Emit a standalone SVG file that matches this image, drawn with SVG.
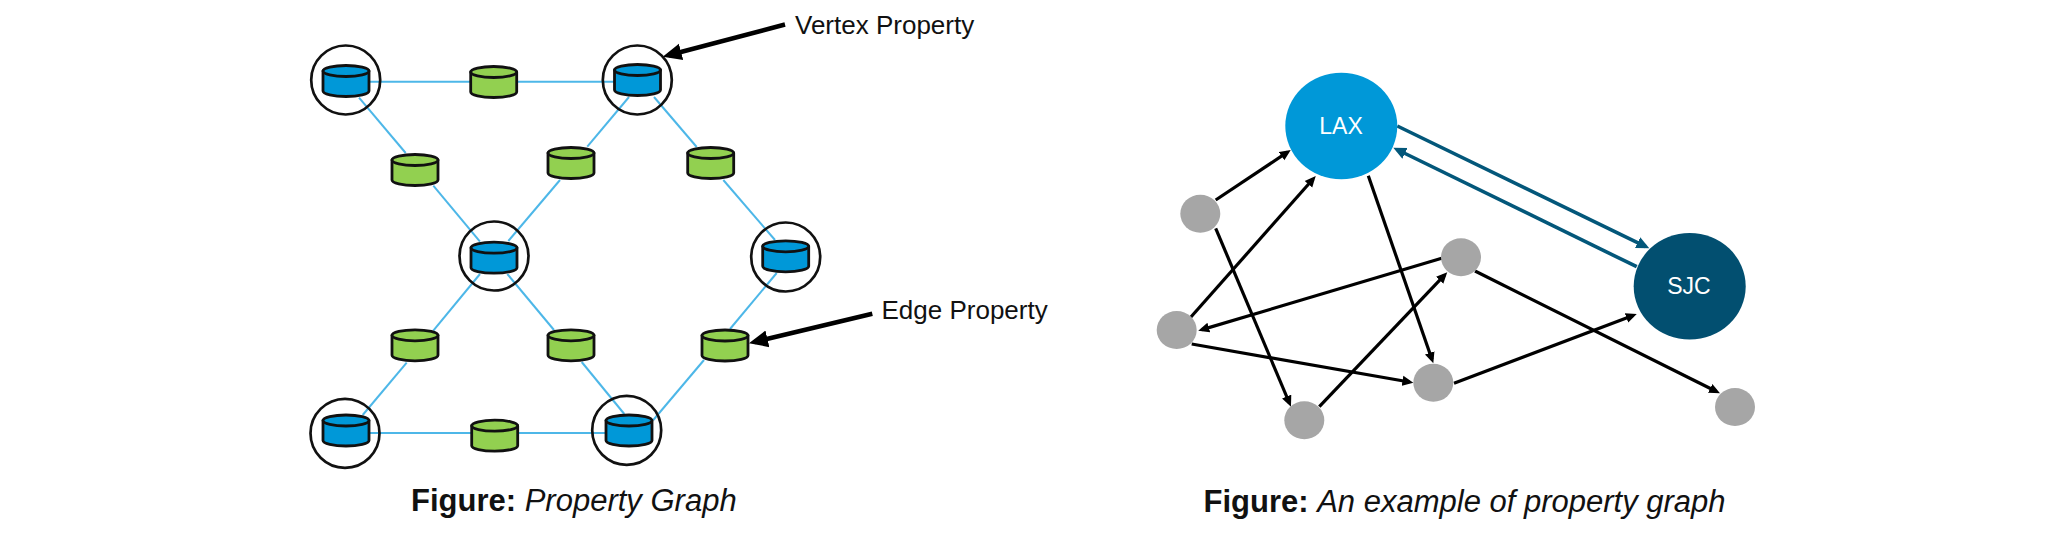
<svg xmlns="http://www.w3.org/2000/svg" xmlns:xlink="http://www.w3.org/1999/xlink" width="2048" height="537" viewBox="0 0 2048 537">
<style>
text{font-family:"Liberation Sans",Arial,sans-serif;fill:#111}
.lbl{font-size:26px}
.cap{font-size:31px}
.w{fill:#fff;font-size:23px;text-anchor:middle}
.blue line{stroke:#4db7e8;stroke-width:2}
.blk line{stroke:#000;stroke-width:3.2;marker-end:url(#ah)}
.teal line{stroke:#03577a;stroke-width:3.6;marker-end:url(#ath)}
.call line{stroke:#000;stroke-width:4.6;marker-end:url(#abig)}
.ring{fill:none;stroke:#111;stroke-width:2.7}
.g{fill:#a6a6a6}
.v{fill:#0098d8}
.e{fill:#92d050}
.cyl path,.cyl ellipse{stroke:#111;stroke-width:2.8;stroke-linejoin:round}
</style>
<defs>
<marker id="ah" markerUnits="userSpaceOnUse" markerWidth="12" markerHeight="12" viewBox="0 0 12 12" refX="7" refY="6" orient="auto"><path d="M0,1 L11,6 L0,11 Z" fill="#000"/></marker>
<marker id="ath" markerUnits="userSpaceOnUse" markerWidth="14" markerHeight="14" viewBox="0 0 14 14" refX="9" refY="7" orient="auto"><path d="M0,1 L13,7 L0,13 Z" fill="#03577a"/></marker>
<marker id="abig" markerUnits="userSpaceOnUse" markerWidth="20" markerHeight="20" viewBox="0 0 20 20" refX="13" refY="10" orient="auto"><path d="M0,1.5 L19,10 L0,18.5 Z" fill="#000"/></marker>
<g id="cyl" class="cyl"><path d="M-23,-10 V10 A23,5.5 0 0 0 23,10 V-10 Z" fill="inherit"/><ellipse cx="0" cy="-10" rx="23" ry="5.5" fill="inherit"/></g>
</defs>
<g id="connectors">
<g class="blue">
<line x1="369" y1="81.7" x2="614" y2="81.7"/>
<line x1="359" y1="97.7" x2="405.7" y2="153"/>
<line x1="433.3" y1="185.7" x2="480" y2="241.7"/>
<line x1="508.3" y1="241" x2="560" y2="180"/>
<line x1="587.3" y1="146.7" x2="629" y2="97"/>
<line x1="654" y1="97" x2="696.7" y2="147"/>
<line x1="723.3" y1="180" x2="775" y2="240"/>
<line x1="776.7" y1="273" x2="730" y2="329"/>
<line x1="704" y1="360" x2="653.3" y2="420"/>
<line x1="480" y1="274" x2="433.3" y2="330.7"/>
<line x1="406.7" y1="362.7" x2="362.7" y2="415"/>
<line x1="507.3" y1="274" x2="554" y2="330"/>
<line x1="581.7" y1="362" x2="624.3" y2="414"/>
<line x1="369" y1="433" x2="471" y2="433"/>
<line x1="518" y1="433" x2="605" y2="433"/>
</g>
<g class="call">
<line x1="785" y1="24.5" x2="668.5" y2="55.2"/>
<line x1="872.3" y1="313.7" x2="754.8" y2="341.9"/>
</g>
<g class="blk">
<line x1="1215.7" y1="200" x2="1287.4" y2="152.2"/>
<line x1="1190.7" y1="317.3" x2="1313.1" y2="179"/>
<line x1="1215.7" y1="228.3" x2="1289.4" y2="403"/>
<line x1="1368.3" y1="175.7" x2="1432" y2="359.5"/>
<line x1="1441.7" y1="258.3" x2="1202.1" y2="329.6"/>
<line x1="1191.7" y1="344" x2="1409.4" y2="382"/>
<line x1="1319.3" y1="406.7" x2="1444.5" y2="275.2"/>
<line x1="1454" y1="383.3" x2="1633" y2="315.4"/>
<line x1="1475" y1="271" x2="1716.4" y2="391.5"/>
</g>
<g class="teal">
<line x1="1397.3" y1="126" x2="1645.7" y2="246.6"/>
<line x1="1636.7" y1="266.7" x2="1396.9" y2="149.5"/>
</g>
</g>
<g id="v-tl"><circle class="ring" cx="345.7" cy="80" r="34.5"/><use href="#cyl" x="346" y="81" class="v"/></g>
<g id="v-tr"><circle class="ring" cx="637.3" cy="80" r="34.5"/><use href="#cyl" x="637.5" y="80" class="v"/></g>
<g id="v-c"><circle class="ring" cx="494" cy="256" r="34.5"/><use href="#cyl" x="494" y="257.7" class="v"/></g>
<g id="v-r"><circle class="ring" cx="785.7" cy="257" r="34.5"/><use href="#cyl" x="785.7" y="256.3" class="v"/></g>
<g id="v-bl"><circle class="ring" cx="345" cy="433.3" r="34.5"/><use href="#cyl" x="346" y="430.5" class="v"/></g>
<g id="v-br"><circle class="ring" cx="626.7" cy="430.3" r="34.5"/><use href="#cyl" x="629" y="430.5" class="v"/></g>
<g id="e-top"><use href="#cyl" x="493.7" y="82" class="e"/></g>
<g id="e-ul"><use href="#cyl" x="415" y="170" class="e"/></g>
<g id="e-um"><use href="#cyl" x="571" y="163" class="e"/></g>
<g id="e-ur"><use href="#cyl" x="710.7" y="163" class="e"/></g>
<g id="e-ll"><use href="#cyl" x="415" y="345.3" class="e"/></g>
<g id="e-lm"><use href="#cyl" x="571" y="345.3" class="e"/></g>
<g id="e-lr"><use href="#cyl" x="725" y="345.5" class="e"/></g>
<g id="e-bot"><use href="#cyl" x="494.7" y="435.7" class="e"/></g>
<g id="n-lax"><ellipse class="v" cx="1341.3" cy="126" rx="56" ry="53.3"/><text class="w" x="1341" y="134">LAX</text></g>
<g id="n-sjc"><ellipse fill="#024f70" cx="1689.7" cy="286.3" rx="56" ry="53.3"/><text class="w" x="1689" y="294">SJC</text></g>
<g id="n-1"><ellipse class="g" cx="1200.3" cy="213.7" rx="20" ry="19"/></g>
<g id="n-2"><ellipse class="g" cx="1461" cy="257.3" rx="20" ry="19"/></g>
<g id="n-3"><ellipse class="g" cx="1176.7" cy="330" rx="20" ry="19"/></g>
<g id="n-4"><ellipse class="g" cx="1433.3" cy="382.7" rx="20" ry="19"/></g>
<g id="n-5"><ellipse class="g" cx="1304.3" cy="420.3" rx="20" ry="19"/></g>
<g id="n-6"><ellipse class="g" cx="1735" cy="407" rx="20" ry="19"/></g>
<text class="lbl" x="795" y="34">Vertex Property</text>
<text class="lbl" x="881.5" y="319">Edge Property</text>
<text class="cap" x="411" y="511"><tspan font-weight="bold">Figure:</tspan> <tspan font-style="italic">Property Graph</tspan></text>
<text class="cap" x="1203.5" y="511.5"><tspan font-weight="bold">Figure:</tspan> <tspan font-style="italic">An example of property graph</tspan></text>
</svg>
